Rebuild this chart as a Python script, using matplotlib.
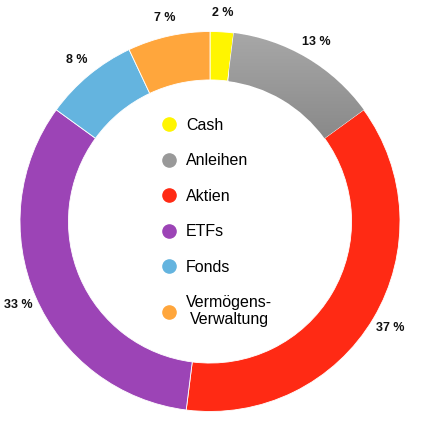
import numpy as np
import matplotlib
matplotlib.use("Agg")
import matplotlib.pyplot as plt
from matplotlib.lines import Line2D

# Portfolio shares in percent
categories = ["Cash", "Anleihen", "Aktien", "ETFs", "Fonds", "Vermögens-\nVerwaltung"]
shares = [2, 13, 37, 33, 8, 7]
colors = ["#fff500", "#999999", "#ff2a14", "#9c44b6", "#64b4df", "#ffa63c"]

plt.rcParams["font.family"] = ["Liberation Sans", "DejaVu Sans"]

fig = plt.figure(figsize=(4.21, 4.23), dpi=100)
ax = fig.add_axes([0, 0, 1, 1])
R = 190.0  # outer radius in pixels
cx, cy = 210.0, 423 - 221.5

wedges, _, autotexts = ax.pie(
    shares, colors=colors, startangle=90, counterclock=False,
    radius=1.0, autopct="%.0f %%", pctdistance=1.1,
    wedgeprops=dict(width=0.255, edgecolor="white", linewidth=0.6),
    textprops=dict(fontsize=9, fontweight="bold", color="#111111"),
)

# grey gradient for Anleihen
w = wedges[1]
grad = np.linspace(0, 1, 256).reshape(-1, 1)
img = ax.imshow(grad, cmap=matplotlib.colors.LinearSegmentedColormap.from_list(
    "g", ["#a8a8a8", "#828282"]), extent=(0.1, 1.0, 0.3, 1.0), aspect="auto",
    origin="upper", zorder=w.get_zorder() + 0.1)
img.set_clip_path(w)

ax.set_xlim(-cx / R, (421 - cx) / R)
ax.set_ylim(-cy / R, (423 - cy) / R)
ax.axis("off")

handles = [Line2D([], [], marker="o", linestyle="", markersize=9.5,
                  markerfacecolor=c, markeredgecolor=c) for c in colors]
leg = ax.legend(handles, categories, loc="upper left",
                bbox_to_anchor=(150 / 421, 1 - 110 / 423), frameon=False,
                fontsize=11.5, handletextpad=0.35, labelspacing=1.28,
                handlelength=1.4, borderpad=0)
leg.get_texts()[5].set_multialignment("center")
leg.get_texts()[5].set_linespacing(1.15)

fig.savefig("out.png", dpi=100)
